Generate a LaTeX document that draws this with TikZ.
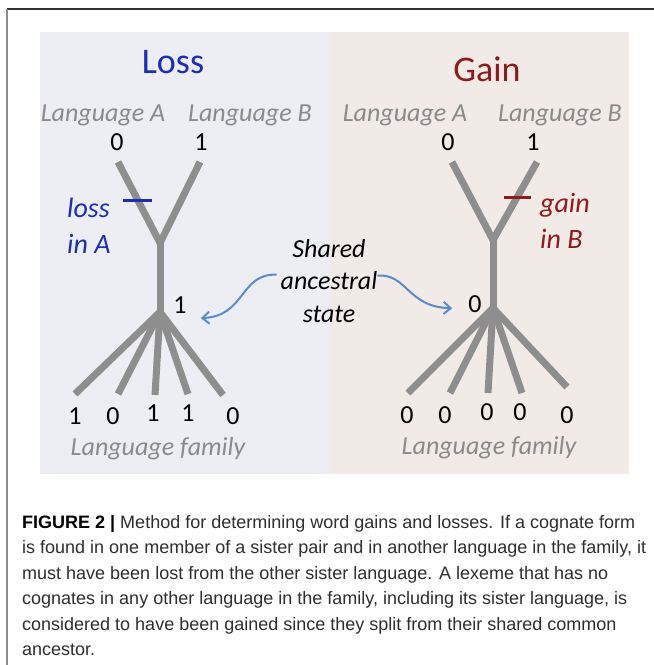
\documentclass[tikz,border=0pt]{standalone}
\usepackage{fontspec}
\setmainfont{Liberation Sans}
\newfontfamily\calib{Carlito}
\usetikzlibrary{arrows.meta}
\definecolor{panelL}{HTML}{EDEEF4}
\definecolor{panelR}{HTML}{F1EAE7}
\definecolor{treegray}{HTML}{8E8E8E}
\definecolor{labelgray}{HTML}{8A8A8A}
\definecolor{lossblue}{HTML}{1B2DB4}
\definecolor{gainred}{HTML}{8E1B1B}
\definecolor{arrowblue}{HTML}{5A8CC8}
\definecolor{captext}{HTML}{2E2E2E}
\begin{document}
\begin{tikzpicture}[x=1pt, y=-1pt, every node/.style={inner sep=0pt},
  branch/.style={draw=treegray, line width=7pt, line join=round},
  lang/.style={font=\calib\itshape\fontsize{26}{30}\selectfont, text=labelgray, anchor=base},
  digit/.style={font=\calib\fontsize{26}{30}\selectfont, anchor=base},
  title/.style={font=\calib\fontsize{36}{40}\selectfont, anchor=base},
  note/.style={font=\calib\itshape\fontsize{28}{36}\selectfont, align=left, anchor=base west},
  tick/.style={line width=3pt},
  pointer/.style={draw=arrowblue, line width=2pt, -{Straight Barb[length=7pt, width=12pt, line width=2pt]}}]
\useasboundingbox (0,0) rectangle (654,665);
\fill[white] (0,0) rectangle (654,665);
\fill[panelL] (40,32) rectangle (329.5,474);
\fill[panelR] (329.5,32) rectangle (629,474);
\draw[line width=1.5pt, black!80] (7,9) -- (654,9);
\draw[line width=1.5pt, black!45] (7,9) -- (7,665);

\node[title, text=lossblue] (loss) at (173,73) {Loss};
\node[title, text=gainred] (gain) at (487,81) {Gain};

\node[lang] (lla) at (103,121) {Language A};
\node[lang] (llb) at (250,121) {Language B};
\node[lang] (rla) at (405,121) {Language A};
\node[lang] (rlb) at (560,121) {Language B};
\node[digit] (lda) at (117,150) {0};
\node[digit] (ldb) at (201,150) {1};
\node[digit] (rda) at (448,150) {0};
\node[digit] (rdb) at (533,150) {1};

\coordinate (lA) at (118,162);
\coordinate (lB) at (200,162);
\coordinate (lJ) at (160,243);
\coordinate (lR) at (160,312);
\coordinate (l1) at (75,394);
\coordinate (l2) at (118,394);
\coordinate (l3) at (155,395);
\coordinate (l4) at (188,394);
\coordinate (l5) at (223,395);
\draw[branch] (lA) -- (lJ) -- (lB);
\draw[branch] (lJ) -- (lR);
\foreach \leaf in {l1,l2,l3,l4,l5}
  \draw[branch] (lR) -- (\leaf);

\coordinate (rA) at (452,162);
\coordinate (rB) at (537,162);
\coordinate (rJ) at (493,240);
\coordinate (rR) at (493,308);
\coordinate (r1) at (408,393);
\coordinate (r2) at (450,393);
\coordinate (r3) at (488,393);
\coordinate (r4) at (522,393);
\coordinate (r5) at (567,387);
\draw[branch] (rA) -- (rJ) -- (rB);
\draw[branch] (rJ) -- (rR);
\foreach \leaf in {r1,r2,r3,r4,r5}
  \draw[branch] (rR) -- (\leaf);

\path (lA) -- (lJ) coordinate[pos=0.47] (lm);
\draw[tick, lossblue] ([xshift=-14.5pt]lm) -- ([xshift=14.5pt]lm);
\node[note, text=lossblue] (lnote) at (67,253) {loss\\in A};
\path (rB) -- (rJ) coordinate[pos=0.45] (rm);
\draw[tick, gainred] ([xshift=-13.5pt]rm) -- ([xshift=13.5pt]rm);
\node[note, text=gainred] (rnote) at (540,248) {gain\\in B};

\node[digit] (lanc) at (180,313) {1};
\node[digit] (ranc) at (475,312) {0};

\node[font=\calib\itshape\fontsize{26}{32.5}\selectfont, align=center, anchor=base] (shared) at (329,322) {Shared\\ancestral\\state};
\draw[pointer] ([xshift=-4pt,yshift=6pt]shared.west) .. controls +(-37,-1) and +(45,-2) .. ([xshift=14pt,yshift=-13.5pt]lanc.east);
\draw[pointer] ([xshift=0pt,yshift=5pt]shared.east) .. controls +(30,-2) and +(-45,-1) .. ([xshift=-16pt,yshift=-4.5pt]ranc.west);

\node[digit] (lf1) at (75,424) {1};
\node[digit] (lf2) at (113,424) {0};
\node[digit] (lf3) at (153,421) {1};
\node[digit] (lf4) at (188,421) {1};
\node[digit] (lf5) at (233,424) {0};
\node[digit] (rf1) at (407,423) {0};
\node[digit] (rf2) at (445,423) {0};
\node[digit] (rf3) at (487,420) {0};
\node[digit] (rf4) at (520,420) {0};
\node[digit] (rf5) at (567,423) {0};
\node[lang] (lfam) at (158,455) {Language family};
\node[lang] (rfam) at (489,454) {Language family};

\node[font=\fontsize{18}{25.5}\selectfont, text=captext, align=left, anchor=north west] (caption) at (22,515) {\textbf{\color{black}FIGURE 2 |} Method for determining word gains and losses. If a cognate form\\
is found in one member of a sister pair and in another language in the family, it\\
must have been lost from the other sister language. A lexeme that has no\\
cognates in any other language in the family, including its sister language, is\\
considered to have been gained since they split from their shared common\\
ancestor.};
\end{tikzpicture}
\end{document}
